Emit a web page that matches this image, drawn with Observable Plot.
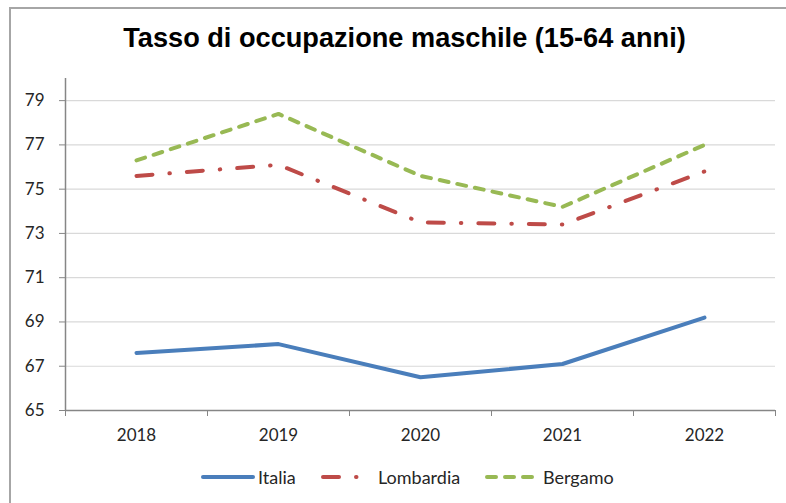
<!DOCTYPE html>
<html><head><meta charset="utf-8">
<script src="https://cdn.jsdelivr.net/npm/d3@7"></script>
<script src="https://cdn.jsdelivr.net/npm/@observablehq/plot@0.6"></script>
<style>
body{margin:0;background:#fff;}
#wrap{position:relative;width:786px;height:503px;overflow:hidden;font-family:Lato,"Liberation Sans",sans-serif;background:#fff;}
#frame{position:absolute;left:9px;top:7px;width:800px;height:520px;border:2px solid #a6a6a6;}
#title{position:absolute;top:22px;left:0;width:809px;text-align:center;font:bold 28px/32px "Liberation Sans",Arial,sans-serif;color:#000;transform:scaleX(0.97);transform-origin:404.5px 0;white-space:nowrap;}
#chart{position:absolute;left:0;top:70px;}
.leg{position:absolute;top:466px;height:22px;line-height:22px;font-size:18px;color:#262626;}
.legsw{position:absolute;top:466px;}
</style></head>
<body>
<div id="wrap">
  <div id="frame"></div>
  <div id="title">Tasso di occupazione maschile (15-64 anni)</div>
  <div id="chart"></div>
</div>
<script>
const years = [2018, 2019, 2020, 2021, 2022];
const seriesNames = ["Italia", "Lombardia", "Bergamo"];
const italia = [67.6, 68.0, 66.5, 67.1, 69.2];
const lombardia = [75.6, 76.1, 73.5, 73.4, 75.8];
const bergamo = [76.3, 78.4, 75.6, 74.2, 77.0];
const yTicks = [65, 67, 69, 71, 73, 75, 77, 79];

const values = {Italia: italia, Lombardia: lombardia, Bergamo: bergamo};
const styles = {
  Italia: {stroke: "#4a7ebb", dash: null},
  Lombardia: {stroke: "#be4b48", dash: "16,17,0.5,17"},
  Bergamo: {stroke: "#98b954", dash: "9,9"}
};
const rows = seriesNames.flatMap(n => years.map((yr, i) => ({name: n, year: yr, value: values[n][i]})));
const bounds = [2017.5, 2018.5, 2019.5, 2020.5, 2021.5, 2022.5];

const chart = Plot.plot({
  width: 786, height: 380,
  marginLeft: 65, marginRight: 11, marginTop: 8, marginBottom: 40,
  style: {fontFamily: "Lato, 'Liberation Sans', sans-serif", fontSize: "17px", background: "transparent"},
  x: {domain: [2017.5, 2022.5]},
  y: {domain: [65, 80]},
  marks: [
    Plot.gridY(yTicks, {stroke: "#d9d9d9", strokeOpacity: 1, strokeWidth: 1.2}),
    Plot.axisY(yTicks, {tickSize: 6, tickPadding: 15, tickFormat: d => String(d), stroke: "#868686", fill: "#262626", fontSize: 17, label: null}),
    Plot.axisX(years, {tickSize: 0, tickPadding: 18, tickFormat: d => String(d), fill: "#262626", fontSize: 17, label: null}),
    Plot.axisX(bounds, {tickSize: 6, tickFormat: () => "", stroke: "#868686", label: null}),
    Plot.ruleY([65], {stroke: "#868686", strokeWidth: 1.5}),
    Plot.ruleX([2017.5], {stroke: "#868686", strokeWidth: 1.5}),
    ...seriesNames.map(n => Plot.line(rows.filter(r => r.name === n), {
      x: "year", y: "value", stroke: styles[n].stroke, strokeWidth: 4,
      strokeDasharray: styles[n].dash, strokeLinecap: "round", strokeLinejoin: "round"
    }))
  ]
});
document.getElementById("chart").appendChild(chart);

// legend
const legPos = {Italia: [201, 53, 258], Lombardia: [321, 37, 378], Bergamo: [485, 53, 543]};
const wrap = d3.select("#wrap");
seriesNames.forEach(n => {
  const [sx, sw, tx] = legPos[n];
  const svg = wrap.append("svg").attr("class", "legsw")
    .attr("width", sw + 6).attr("height", 22)
    .style("left", (sx - 2) + "px");
  svg.append("line").attr("x1", 4).attr("x2", sw + 1).attr("y1", 11).attr("y2", 11)
    .attr("stroke", styles[n].stroke).attr("stroke-width", 4)
    .attr("stroke-linecap", "round")
    .attr("stroke-dasharray", styles[n].dash);
  wrap.append("div").attr("class", "leg").style("left", tx + "px").text(n);
});
</script>
</body></html>
